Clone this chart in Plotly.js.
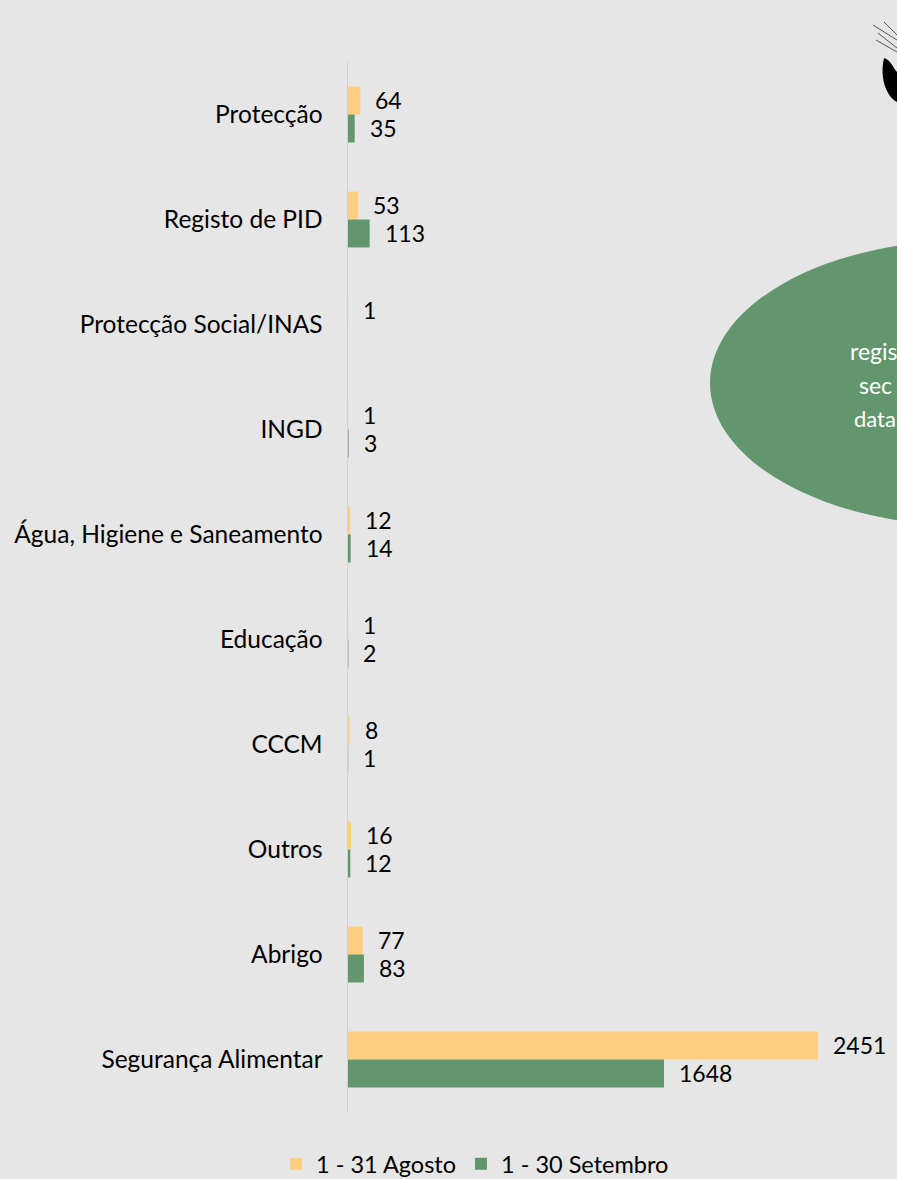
<!DOCTYPE html>
<html>
<head>
<meta charset="utf-8">
<script src="https://cdn.plot.ly/plotly-3.0.1.min.js"></script>
<style>html,body{margin:0;padding:0;background:#e6e6e6;}#chart{width:897px;height:1179px;}</style>
</head>
<body>
<div id="chart"></div>
<script>
const categories = ["Protecção", "Registo de PID", "Protecção Social/INAS", "INGD", "Água, Higiene e Saneamento", "Educação", "CCCM", "Outros", "Abrigo", "Segurança Alimentar"];
const agosto = [64, 53, 1, 1, 12, 1, 8, 16, 77, 2451];
const setembro = [35, 113, null, 3, 14, 2, 1, 12, 83, 1648];
const seriesNames = ["1 - 31 Agosto", "1 - 30 Setembro"];
const calloutLines = ["regis", "sec", "data"];
const colors = ["#fecf80", "#62976d"];

const FONT = "Lato, 'Open Sans', sans-serif";
const L = 348, R = 885, T = 62, B = 1112;
const px = x => (x - L) / (R - L);
const py = y => 1 - (y - T) / (B - T);

const traces = [
  {type: "bar", orientation: "h", name: seriesNames[0], y: categories, x: agosto,
   marker: {color: colors[0]}, hoverinfo: "x"},
  {type: "bar", orientation: "h", name: seriesNames[1], y: categories, x: setembro,
   marker: {color: colors[1]}, hoverinfo: "x"}
];

const annotations = [];
[agosto, setembro].forEach((vals, si) => {
  vals.forEach((v, i) => {
    if (v === null) return;
    annotations.push({
      x: v, y: categories[i], xref: "x", yref: "y",
      text: String(v), showarrow: false, xanchor: "left", yanchor: "middle",
      xshift: 13, yshift: si === 0 ? 15 : -13,
      font: {family: FONT, size: 23, color: "#000"}
    });
  });
});

// callout ellipse text (only the part of it visible in the frame)
const calloutX = [848, 857, 852];
const calloutSize = [23, 23, 22];
calloutLines.forEach((t, k) => {
  annotations.push({
    xref: "paper", yref: "paper", x: px(calloutX[k]), y: py(351 + k * 33.5),
    text: t, showarrow: false, xanchor: "left", yanchor: "middle",
    font: {family: FONT, size: calloutSize[k], color: "#ffffff"}
  });
});

const spikes = [[873, 25, 897, 40], [878, 33, 897, 48], [876, 40, 897, 52], [884, 22, 897, 35]];
const shapes = [
  {type: "circle", xref: "paper", yref: "paper", layer: "below",
   x0: px(710), x1: px(1230), y0: py(526), y1: py(240),
   fillcolor: "#62976d", line: {width: 0}},
  {type: "path", xref: "paper", yref: "paper", layer: "above",
   path: `M ${px(884)},${py(58)} C ${px(879)},${py(80)} ${px(888)},${py(98)} ${px(897)},${py(102)} L ${px(897)},${py(72)} C ${px(893)},${py(68)} ${px(891)},${py(60)} ${px(884)},${py(58)} Z`,
   fillcolor: "#000", line: {width: 0}}
];
spikes.forEach(s => shapes.push({type: "line", xref: "paper", yref: "paper",
  x0: px(s[0]), y0: py(s[1]), x1: px(s[2]), y1: py(s[3]), line: {color: "#555", width: 1}}));

const layout = {
  width: 897, height: 1179,
  paper_bgcolor: "#e6e6e6", plot_bgcolor: "#e6e6e6",
  margin: {l: L, r: 897 - R, t: T, b: 1179 - B},
  barmode: "group", bargap: 0.467, bargroupgap: 0,
  font: {family: FONT, size: 23, color: "#000"},
  xaxis: {range: [0, 2451 * (R - L) / 470], showgrid: false, zeroline: false, showticklabels: false,
          showline: false, ticks: "", fixedrange: true},
  yaxis: {autorange: "reversed", showgrid: false, zeroline: false, showline: true,
          linecolor: "#d0d0d0", linewidth: 1.5, ticks: "outside", ticklen: 19,
          tickcolor: "rgba(0,0,0,0)", tickfont: {family: FONT, size: 24.5, color: "#000"}},
  legend: {orientation: "h", xref: "container", yref: "container",
           x: 475 / 897, xanchor: "center", y: 1 - 1164 / 1179, yanchor: "middle",
           font: {family: FONT, size: 23.5, color: "#000"}, itemwidth: 30,
           traceorder: "normal", bgcolor: "rgba(0,0,0,0)"},
  shapes: shapes,
  annotations: annotations
};

Plotly.newPlot("chart", traces, layout, {staticPlot: true, displayModeBar: false});
</script>
</body>
</html>
